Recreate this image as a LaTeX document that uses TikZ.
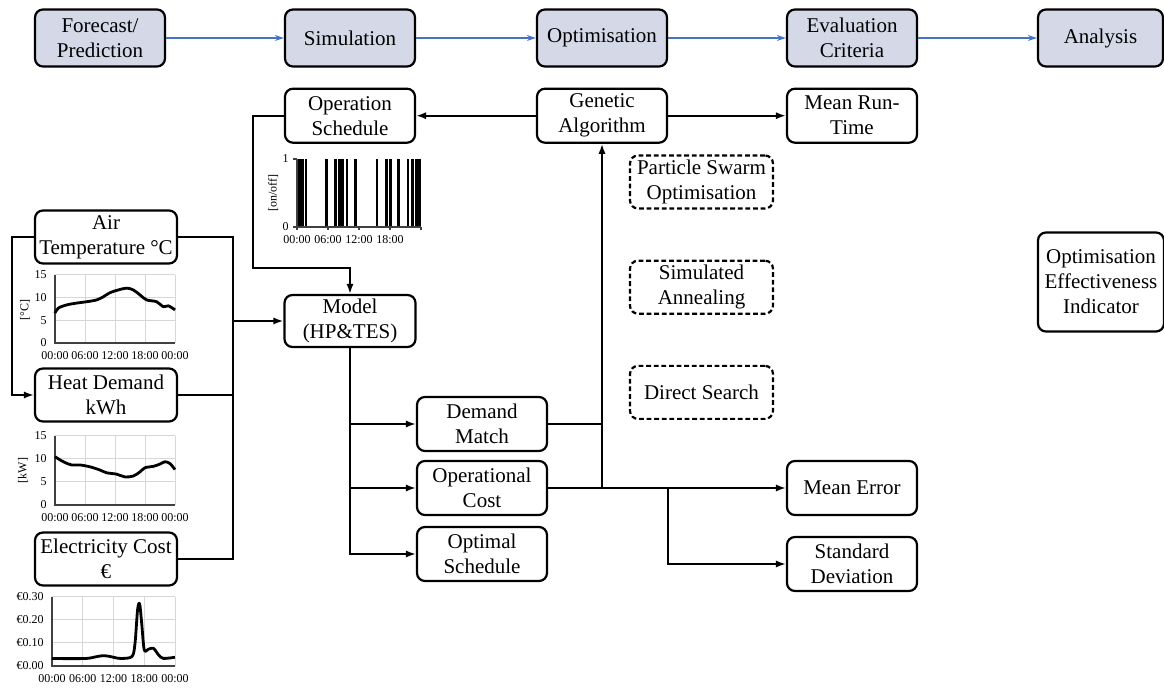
\documentclass[tikz,border=0pt]{standalone}
\usepackage{fontspec}
\setmainfont{Liberation Serif}
\usetikzlibrary{arrows.meta, positioning}

\definecolor{stagefill}{RGB}{213,217,231}
\definecolor{stageblue}{RGB}{68,114,196}
\definecolor{chartgrid}{RGB}{215,215,215}

\tikzset{
  stagebox/.style={draw, fill=stagefill, rounded corners=4pt, line width=1.1pt, align=center,
    minimum width=65pt, minimum height=28.5pt, inner xsep=2pt, inner ysep=1pt,
    font=\fontsize{10.5}{12.5}\selectfont},
  plainbox/.style={stagebox, fill=none, minimum height=27pt},
  altbox/.style={plainbox, dash pattern=on 2.4pt off 1.4pt, minimum width=71.5pt, minimum height=26.5pt},
  srcbox/.style={plainbox, minimum width=71pt, minimum height=26.5pt},
  flow/.style={stageblue, line width=0.75pt, -{Stealth[length=4.5pt, width=3pt]}},
  wire/.style={line width=1pt},
  feed/.style={wire, -{Latex[length=5pt, width=3.6pt]}},
  axislabel/.style={font=\fontsize{6}{7}\selectfont, inner sep=1pt},
  gridline/.style={chartgrid, line width=0.5pt},
  axisline/.style={black!75, line width=0.6pt},
  trace/.style={line width=1.4pt, line join=round},
}

\begin{document}
\begin{tikzpicture}[x=0.5pt, y=-0.5pt]
\useasboundingbox (0,0) rectangle (1164,689);

% stages along the top
\node[stagebox] (fc) at (100,38) {Forecast/\\Prediction};
\node[stagebox] (sim) at (350,38) {Simulation};
\node[stagebox] (opt) at (602,38) {Optimisation};
\node[stagebox] (eval) at (852,38) {Evaluation\\Criteria};
\node[stagebox, minimum width=62.5pt] (ana) at (1100.5,38) {Analysis};

\draw[flow] (fc) -- (sim);
\draw[flow] (sim) -- (opt);
\draw[flow] (opt) -- (eval);
\draw[flow] (eval) -- (ana);

% second row
\node[plainbox] (opsched) [below=10pt of sim] {Operation\\Schedule};
\node[plainbox] (ga) [below=10pt of opt] {Genetic\\Algorithm};
\node[plainbox] (meanrun) [below=10pt of eval] {Mean Run-\\Time};

% other optimisers (dashed)
\node[altbox] (pso) at (701.5,182) {Particle Swarm\\Optimisation};
\node[altbox] (sa) [below=25pt of pso] {Simulated\\Annealing};
\node[altbox] (ds) [below=25pt of sa] {Direct Search};

\node[plainbox, minimum width=63pt, minimum height=49.5pt] (oei) at (1101,282) {Optimisation\\Effectiveness\\Indicator};

% inputs on the left
\node[srcbox] (air) at (106,237) {Air\\Temperature °C};
\node[srcbox] (heat) at (106,395) {Heat Demand\\kWh};
\node[srcbox] (elec) at (106,559) {Electricity Cost\\€};

% model and outputs
\node[plainbox, minimum width=65.5pt, minimum height=26pt] (model) at (350,321) {Model\\(HP\&TES)};
\node[plainbox] (demand) at (482,424) {Demand\\Match};
\node[plainbox] (opcost) at (482,488) {Operational\\Cost};
\node[plainbox] (optsched) at (482,554) {Optimal\\Schedule};
\node[plainbox] (meanerr) at (852,488) {Mean Error};
\node[plainbox] (stddev) at (852,564) {Standard\\Deviation};

% connectors
\draw[feed] (ga) -- (opsched);
\draw[feed] (ga) -- (meanrun);
\draw[feed] (air.west) -- ++(-22,0) |- (heat.west);
\coordinate (bus) at (232,321);
\draw[wire] (air.east) -- ++(55,0) |- (elec.east);
\draw[wire] (heat.east) -- (heat.east -| bus);
\draw[feed] (bus |- model.west) -- (model.west);
\draw[feed] (opsched.west) -- ++(-31,0) -- ++(0,152) -| (model.north);
\draw[feed] (model.south) |- (demand.west);
\draw[feed] (model.south) |- (opcost.west);
\draw[feed] (model.south) |- (optsched.west);
\draw[wire] (demand.east) -- (demand.east -| ga.south);
\draw[feed] (opcost.east) -| (ga.south);
\draw[feed] (opcost.east) -- (meanerr.west);
\coordinate (split) at (668,488);
\draw[feed] (split) |- (stddev.west);

% air temperature chart
\begin{scope}[shift={(55,343)}, x=2.5pt, y=2.267pt]
  \foreach \h in {6,12,18,24} \draw[gridline] (\h,0) -- (\h,15);
  \foreach \v in {5,10,15} \draw[gridline] (0,\v) -- (24,\v);
  \draw[axisline] (0,15) -- (0,0) -- (24,0);
  \draw[trace] plot[smooth, tension=0.55] coordinates {(0,6.6) (0.67,7.7) (2.33,8.4) (4.33,8.8) (6.33,9.1) (8.33,9.5) (9.67,10.2) (11,11.1) (12.67,11.7) (14.33,12.1) (15.67,11.7) (17,10.6) (18.33,9.5) (20.33,9.1) (21.67,8.0) (22.67,8.2) (24,7.3)};
  \foreach \v in {0,5,10,15} \node[axislabel, left=3pt] (tv\v) at (0,\v) {\v};
  \foreach \h/\lab in {0/00:00,6/06:00,12/12:00,18/18:00,24/00:00} \node[axislabel, below=3pt] (th\h) at (\h,0) {\lab};
  \node[axislabel, rotate=90] (tunit) at (-6,7.3) {[°C]};
\end{scope}

% heat demand chart
\begin{scope}[shift={(55,505)}, x=2.5pt, y=2.3pt]
  \foreach \h in {6,12,18,24} \draw[gridline] (\h,0) -- (\h,15);
  \foreach \v in {5,10,15} \draw[gridline] (0,\v) -- (24,\v);
  \draw[axisline] (0,15) -- (0,0) -- (24,0);
  \draw[trace] plot[smooth, tension=0.55] coordinates {(0,10.5) (1.67,9.4) (3.33,8.7) (5,8.7) (7,8.3) (9,7.6) (10.33,7.0) (12.33,6.7) (14,6.1) (15.67,6.3) (17,7.2) (18,8.1) (19.67,8.4) (21,8.9) (22,9.4) (23,9.0) (24,7.7)};
  \foreach \v in {0,5,10,15} \node[axislabel, left=3pt] (hv\v) at (0,\v) {\v};
  \foreach \h/\lab in {0/00:00,6/06:00,12/12:00,18/18:00,24/00:00} \node[axislabel, below=3pt] (hh\h) at (\h,0) {\lab};
  \node[axislabel, rotate=90] (hunit) at (-6.4,7.5) {[kW]};
\end{scope}

% electricity cost chart (values in cents)
\begin{scope}[shift={(52,666)}, x=2.5625pt, y=1.15pt]
  \foreach \h in {6,12,18,24} \draw[gridline] (\h,0) -- (\h,30);
  \foreach \v in {10,20,30} \draw[gridline] (0,\v) -- (24,\v);
  \draw[axisline] (0,30) -- (0,0) -- (24,0);
  \draw[trace] plot[smooth, tension=0.5] coordinates {(0,3.3) (2.9,3.2) (6.8,3.3) (8.8,4.1) (10.1,4.5) (11.4,4.1) (13.3,3.3) (15.6,4.1) (16.2,9.9) (16.7,24.5) (17.1,27) (17.5,18.6) (18,7) (18.8,7.3) (19.8,7.7) (20.8,4.8) (21.7,3.3) (24,3.8)};
  \foreach \v/\lab in {0/€0.00,10/€0.10,20/€0.20,30/€0.30} \node[axislabel, left=3pt] (ev\v) at (0,\v) {\lab};
  \foreach \h/\lab in {0/00:00,6/06:00,12/12:00,18/18:00,24/00:00} \node[axislabel, below=3pt] (eh\h) at (\h,0) {\lab};
\end{scope}

% on/off schedule chart
\begin{scope}[shift={(297,227)}, x=2.5833pt, y=34pt]
  \foreach \h in {0.13,0.5,1.1,1.74,5.7,7.5,8.2,8.8,9.7,11.3,15.5,17.3,18.1,19.7,21.5,22.3,23.1,23.7}
    \draw[line width=1.3pt] (\h,0) -- (\h,1);
  \draw[axisline] (0,1) -- (0,0) -- (24,0);
  \foreach \h in {0,6,12,18,24} \draw[axisline] (\h,0) -- ++(0,-0.05);
  \foreach \v in {0,1} \draw[axisline] (0,\v) -- ++(-0.8,0);
  \foreach \v in {0,1} \node[axislabel, left=3pt] (sv\v) at (0,\v) {\v};
  \foreach \h/\lab in {0/00:00,6/06:00,12/12:00,18/18:00} \node[axislabel, below=3pt] (sh\h) at (\h,0) {\lab};
  \node[axislabel, rotate=90] (sunit) at (-4.6,0.5) {[on/off]};
\end{scope}
\end{tikzpicture}
\end{document}
